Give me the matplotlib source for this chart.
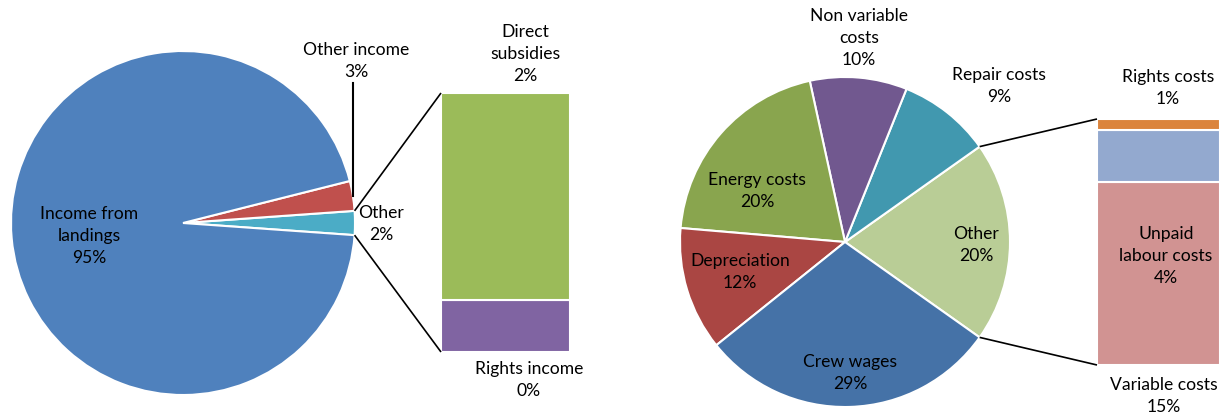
import matplotlib.pyplot as plt
import numpy as np

plt.rcParams['font.family'] = ['Lato', 'DejaVu Sans']

# left chart: income
income_labels = ['Other', 'Other income', 'Income from\nlandings']
income_values = [None, 2.8, 94.9]
income_colors = ['#4BACC6', '#C0504D', '#4F81BD']
income_bar_labels = ['Rights income', 'Direct\nsubsidies']
income_bar_values = [0.45, 1.8]
income_bar_colors = ['#8064A2', '#9BBB59']
income_values[0] = sum(income_bar_values)

# right chart: costs
cost_labels = ['Other', 'Repair costs', 'Non variable\ncosts', 'Energy costs', 'Depreciation', 'Crew wages']
cost_values = [None, 9.1, 9.5, 20.2, 12.1, 29.4]
cost_colors = ['#B9CD96', '#4198AF', '#71588F', '#89A54E', '#AA4643', '#4572A7']
cost_bar_labels = ['Variable costs', 'Unpaid\nlabour costs', 'Rights costs']
cost_bar_values = [14.6, 4.1, 0.9]
cost_bar_colors = ['#D19392', '#93A9CF', '#DB843D']
cost_values[0] = sum(cost_bar_values)

W, H = 1222, 418
fig = plt.figure(figsize=(W / 100, H / 100), dpi=100)
ax = fig.add_axes([0, 0, 1, 1])

FS = 12.6
txt = dict(ha='center', va='center', fontsize=FS, color='black', linespacing=1.45)


def pct(v, tot):
    return f"{v / tot * 100:.0f}%"


def pie_of_bar(values, colors, bar_values, bar_colors, center, radius, bar_x, bar_w, bar_top, bar_bottom):
    tot = sum(values)
    start = -values[0] / tot * 360 / 2
    wedges, _ = ax.pie(values, colors=colors, startangle=start, counterclock=True,
                       center=center, radius=radius,
                       wedgeprops=dict(edgecolor='white', linewidth=1.5))
    scale = (bar_top - bar_bottom) / sum(bar_values)
    bottoms = np.concatenate([[0], np.cumsum(bar_values)[:-1]]) * scale + bar_bottom
    ax.bar([bar_x] * len(bar_values), np.array(bar_values) * scale, bottom=bottoms,
           width=bar_w, color=bar_colors, edgecolor='white', linewidth=1.5)
    # lines from the 'Other' wedge to the bar
    w = wedges[0]
    cx, cy = center
    x0 = bar_x - bar_w / 2
    for ang, yb in [(w.theta2, bar_top), (w.theta1, bar_bottom)]:
        a = np.deg2rad(ang)
        ax.plot([cx + radius * np.cos(a), x0], [cy + radius * np.sin(a), yb],
                color='black', lw=1.2, solid_capstyle='butt')
    return wedges, tot


# left
lw, ltot = pie_of_bar(income_values, income_colors, income_bar_values, income_bar_colors,
                      (183, 418 - 223), 172, 505.5, 129, 418 - 93, 418 - 352)
# leader line for 'Other income'
w = lw[1]
a = np.deg2rad((w.theta1 + w.theta2) / 2)
px = 183 + 172 * np.cos(a)
py = 195 + 172 * np.sin(a)
ax.plot([px, px], [py, 418 - 83], color='black', lw=1.5)

ax.text(89, 418 - 236, f"{income_labels[2]}\n{pct(income_values[2], ltot)}", **txt)
ax.text(356, 418 - 61, f"{income_labels[1]}\n{pct(income_values[1], ltot)}", **txt)
ax.text(381, 418 - 224, f"{income_labels[0]}\n{pct(income_values[0], ltot)}", **txt)
ax.text(525, 418 - 54, f"{income_bar_labels[1]}\n{pct(income_bar_values[1], ltot)}", **txt)
ax.text(529, 418 - 380, f"{income_bar_labels[0]}\n{pct(income_bar_values[0], ltot)}", **txt)

# right
rw, rtot = pie_of_bar(cost_values, cost_colors, cost_bar_values, cost_bar_colors,
                      (845, 418 - 242), 165, 1158.5, 123, 418 - 119, 418 - 365)

cost_label_pos = [(976, 245), (999, 86), (859, 38), (757, 191), (740, 272), (850, 373)]
for lab, v, (x, y) in zip(cost_labels, cost_values, cost_label_pos):
    ax.text(x, 418 - y, f"{lab}\n{pct(v, rtot)}", **txt)

bar_label_pos = [(1164, 396), (1166, 256), (1168, 88)]
for lab, v, (x, y) in zip(cost_bar_labels, cost_bar_values, bar_label_pos):
    ax.text(x, 418 - y, f"{lab}\n{pct(v, rtot)}", **txt)

ax.set_xlim(0, W)
ax.set_ylim(0, H)
ax.set_aspect('equal')
ax.axis('off')

fig.savefig('out.png', dpi=100)
